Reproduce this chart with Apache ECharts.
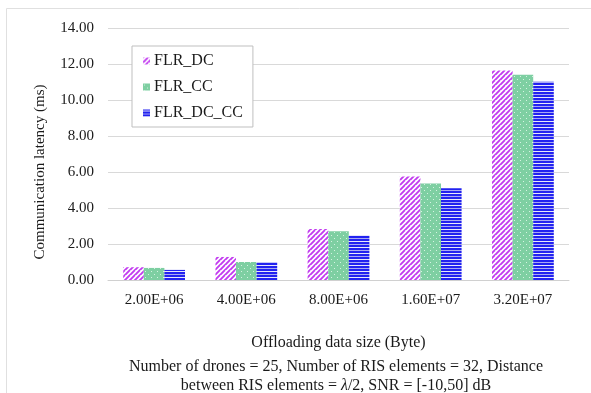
<!DOCTYPE html>
<html>
<head>
<meta charset="utf-8">
<style>
  html, body { margin: 0; padding: 0; background: #ffffff; }
  #chart { width: 591px; height: 393px; }
</style>
<script src="https://cdn.jsdelivr.net/npm/echarts@6/dist/echarts.min.js"></script>
</head>
<body>
<div id="chart"></div>
<script>
// Offloading data sizes (Byte) on the x axis
const categories = ['2.00E+06', '4.00E+06', '8.00E+06', '1.60E+07', '3.20E+07'];
const seriesNames = ['FLR_DC', 'FLR_CC', 'FLR_DC_CC'];
// Communication latency (ms) per scheme
const flrDC   = [0.71, 1.28, 2.84, 5.75, 11.64];
const flrCC   = [0.67, 1.00, 2.71, 5.36, 11.40];
const flrDCCC = [0.56, 0.98, 2.50, 5.10, 11.02];
const yTicks = [0, 2, 4, 6, 8, 10, 12, 14];

const FONT = '"Liberation Serif", "DejaVu Serif", serif';

// Fill patterns drawn on small canvases
function diagonalStripes() {
  const c = document.createElement('canvas');
  c.width = 5; c.height = 5;
  const g = c.getContext('2d');
  g.fillStyle = '#ffffff';
  g.fillRect(0, 0, 5, 5);
  g.strokeStyle = '#c23bf0';
  g.lineWidth = 1.9;
  g.beginPath();
  for (let k = -5; k <= 10; k += 5) {
    g.moveTo(k - 5, 10); g.lineTo(k + 5, 0);
  }
  g.stroke();
  return { image: c, repeat: 'repeat' };
}
function dottedGreen() {
  const c = document.createElement('canvas');
  c.width = 6; c.height = 6;
  const g = c.getContext('2d');
  g.fillStyle = '#7ecfa2';
  g.fillRect(0, 0, 6, 6);
  g.fillStyle = '#d6f2e2';
  g.fillRect(1, 1, 1, 1);
  g.fillRect(4, 4, 1, 1);
  return { image: c, repeat: 'repeat' };
}
function horizontalLines() {
  const c = document.createElement('canvas');
  c.width = 4; c.height = 6;
  const g = c.getContext('2d');
  g.fillStyle = '#2222f0';
  g.fillRect(0, 0, 4, 6);
  g.fillStyle = '#e6e6fb';
  g.fillRect(0, 1, 4, 1);
  g.fillStyle = '#a8a8f3';
  g.fillRect(0, 4, 4, 1);
  return { image: c, repeat: 'repeat' };
}

const fills = [diagonalStripes(), dottedGreen(), horizontalLines()];
const values = [flrDC, flrCC, flrDCCC];

const chart = echarts.init(document.getElementById('chart'), null, { renderer: 'canvas' });
chart.setOption({
  animation: false,
  backgroundColor: '#ffffff',
  textStyle: { fontFamily: FONT },
  grid: { left: 108, right: 22, top: 28, bottom: 113, containLabel: false },
  legend: {
    orient: 'vertical',
    left: 132,
    top: 46,
    backgroundColor: '#ffffff',
    borderColor: '#bfbfbf',
    borderWidth: 1,
    padding: [7, 10, 6, 11],
    itemGap: 10,
    itemWidth: 7,
    itemHeight: 7,
    icon: 'rect',
    textStyle: { fontFamily: FONT, fontSize: 16, color: '#1a1a1a', padding: [0, 0, 0, -1] },
    data: seriesNames
  },
  xAxis: {
    type: 'category',
    data: categories,
    name: 'Offloading data size (Byte)',
    nameLocation: 'middle',
    nameGap: 55,
    nameTextStyle: { fontFamily: FONT, fontSize: 16, color: '#1a1a1a' },
    axisLine: { lineStyle: { color: '#d0d0d0', width: 1 } },
    axisTick: { show: false },
    axisLabel: { fontFamily: FONT, fontSize: 15, color: '#1a1a1a', margin: 13 }
  },
  yAxis: {
    type: 'value',
    min: yTicks[0],
    max: yTicks[yTicks.length - 1],
    interval: 2,
    axisLine: { show: false },
    axisTick: { show: false },
    splitLine: { lineStyle: { color: '#d9d9d9', width: 1 } },
    axisLabel: {
      fontFamily: FONT, fontSize: 15, color: '#1a1a1a', margin: 14,
      formatter: v => v.toFixed(2)
    }
  },
  graphic: [
    {
      type: 'rect',
      silent: true,
      shape: { x: 6.5, y: 8.5, width: 700, height: 500 },
      style: { fill: 'none', stroke: '#e0e0e0', lineWidth: 1 }
    },
    {
      // y-axis title, rotated
      type: 'text',
      silent: true,
      x: 40,
      y: 172,
      rotation: Math.PI / 2,
      style: {
        text: 'Communication latency (ms)',
        font: '15px ' + FONT,
        fill: '#1a1a1a',
        align: 'center',
        verticalAlign: 'middle'
      }
    },
    {
      // caption with the simulation settings
      type: 'text',
      silent: true,
      x: 336,
      y: 376,
      style: {
        text: 'Number of drones = 25, Number of RIS elements = 32, Distance\nbetween RIS elements = {i|λ}/2, SNR = [-10,50] dB',
        font: '16px ' + FONT,
        fill: '#1a1a1a',
        align: 'center',
        verticalAlign: 'middle',
        lineHeight: 19,
        rich: { i: { fontStyle: 'italic', fontFamily: FONT, fontSize: 16, fill: '#1a1a1a' } }
      }
    }
  ],
  series: seriesNames.map((name, i) => ({
    name,
    type: 'bar',
    data: values[i],
    barGap: '0%',
    barCategoryGap: '33%',
    itemStyle: { color: fills[i] }
  }))
});
</script>
</body>
</html>
